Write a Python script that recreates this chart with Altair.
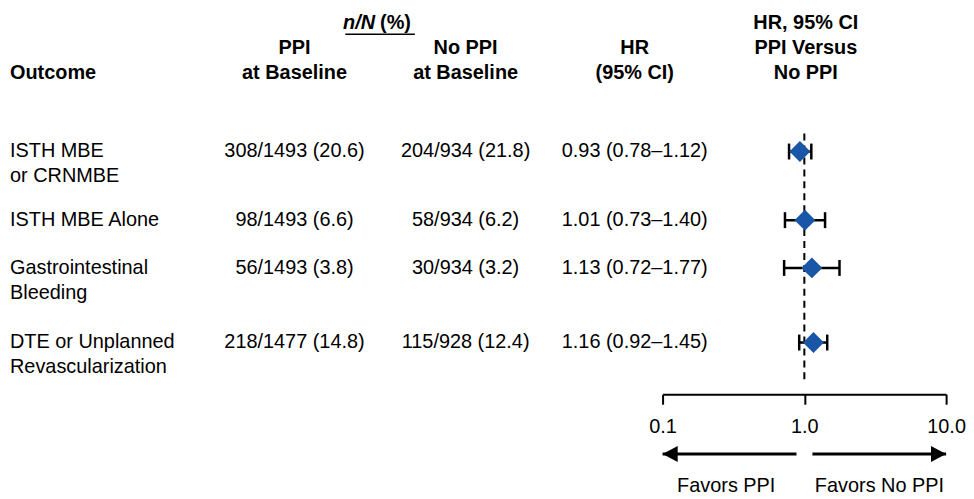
import altair as alt
import pandas as pd

# ---------------- data ----------------
OUTCOMES = ["ISTH MBE\nor CRNMBE", "ISTH MBE Alone", "Gastrointestinal\nBleeding",
            "DTE or Unplanned\nRevascularization"]
PPI_N = ["308/1493 (20.6)", "98/1493 (6.6)", "56/1493 (3.8)", "218/1477 (14.8)"]
NOPPI_N = ["204/934 (21.8)", "58/934 (6.2)", "30/934 (3.2)", "115/928 (12.4)"]
HR = [0.93, 1.01, 1.13, 1.16]
LO = [0.78, 0.73, 0.72, 0.92]
HI = [1.12, 1.40, 1.77, 1.45]
TICKS = [0.1, 1.0, 10.0]
FAVORS = ["Favors PPI", "Favors No PPI"]
HEADERS = ["HR, 95% CI", "PPI", "No PPI", "HR", "PPI Versus",
           "at Baseline", "at Baseline", "(95% CI)", "No PPI"]

# ---------------- layout ----------------
FONT = "Liberation Sans"
FS = 20
ROW_Y = [143, 212, 260, 335]
LINE_H = 25
H = 387
W = 958
X_RANGE = [658, 943]
COL_PPI, COL_NOPPI, COL_HR, COL_FOREST = 288, 460, 630, 802
HDR_X = [COL_FOREST, COL_PPI, COL_NOPPI, COL_HR, COL_FOREST,
         COL_PPI, COL_NOPPI, COL_HR, COL_FOREST]
HDR_Y = [14, 39, 39, 39, 39, 64, 64, 64, 64]
FAV_X = [722, 876]
BLUE = "#1a56a8"

rows = pd.DataFrame({
    "line1": [o.split("\n")[0] for o in OUTCOMES],
    "line2": [o.split("\n")[1] if "\n" in o else "" for o in OUTCOMES],
    "ppi": PPI_N,
    "noppi": NOPPI_N,
    "hrtxt": [f"{h:.2f} ({l:.2f}\u2013{u:.2f})" for h, l, u in zip(HR, LO, HI)],
    "hr": HR, "lo": LO, "hi": HI,
    "y": ROW_Y,
})
rows["y2"] = rows["y"] + LINE_H

xs = alt.Scale(type="log", domain=[0.1, 10], range=X_RANGE)
ys = alt.Scale(domain=[0, H], range=[0, H], zero=False, nice=False)
Y = alt.Y("y:Q", scale=ys, axis=None)

base = alt.Chart(rows)


def txt(field, x, yfield="y", align="center", weight="normal"):
    return base.mark_text(font=FONT, fontSize=FS, align=align, baseline="middle",
                          fontWeight=weight, color="black").encode(
        x=alt.value(x), y=alt.Y(f"{yfield}:Q", scale=ys, axis=None), text=f"{field}:N")


def label(t, x, y, align="center", weight="normal", style="normal"):
    return alt.Chart(pd.DataFrame({"t": [t]})).mark_text(
        font=FONT, fontSize=FS, fontWeight=weight, fontStyle=style,
        baseline="middle", align=align, color="black").encode(
        x=alt.value(x), y=alt.value(y), text="t:N")


table = (txt("line1", 2, align="left") + txt("line2", 2, "y2", align="left")
         + txt("ppi", COL_PPI) + txt("noppi", COL_NOPPI) + txt("hrtxt", COL_HR))

headers = [label(t, x, y, weight="bold") for t, x, y in zip(HEADERS, HDR_X, HDR_Y)]
headers += [label("Outcome", 2, 64, align="left", weight="bold"),
            label("n/N", 369, 14, align="right", weight="bold", style="italic"),
            label("(%)", 374, 14, align="left", weight="bold")]
underline = alt.Chart(pd.DataFrame({"a": [0]})).mark_rule(color="black", strokeWidth=1.5).encode(
    x=alt.value(339), x2=alt.value(409), y=alt.value(25))

# forest plot
ref = alt.Chart(pd.DataFrame({"v": [1.0]})).mark_rule(
    color="black", strokeWidth=2, strokeDash=[7, 5]).encode(
    x=alt.X("v:Q", scale=xs,
            axis=alt.Axis(values=TICKS, format=".1f", title=None, grid=False,
                          domainColor="black", domainWidth=2, tickColor="black",
                          tickWidth=2, tickSize=10, labelFont=FONT, labelFontSize=FS,
                          labelColor="black", labelPadding=12, labelFlush=False)),
    y=alt.value(125), y2=alt.value(377))

ci = base.mark_rule(color="black", strokeWidth=2.5).encode(
    x=alt.X("lo:Q", scale=xs), x2="hi:Q", y=Y)
cap_path = "M0,-1L0,1"
cap_lo = base.mark_point(shape=cap_path, size=256, filled=False, color="black",
                         strokeWidth=2.5, opacity=1).encode(x=alt.X("lo:Q", scale=xs), y=Y)
cap_hi = base.mark_point(shape=cap_path, size=256, filled=False, color="black",
                         strokeWidth=2.5, opacity=1).encode(x=alt.X("hi:Q", scale=xs), y=Y)
diam = base.mark_point(shape="diamond", size=440, filled=True, color=BLUE,
                       opacity=1).encode(x=alt.X("hr:Q", scale=xs), y=Y)

# arrows
arr = pd.DataFrame({"tip": [0.1, 10.0], "end": [0.88, 1.14],
                    "shape": ["M0,0L1.9,-1L1.9,1Z", "M0,0L-1.9,-1L-1.9,1Z"]})
shafts = alt.Chart(arr).mark_rule(color="black", strokeWidth=3).encode(
    x=alt.X("tip:Q", scale=xs), x2="end:Q", y=alt.value(447))
heads = alt.Chart(arr).mark_point(filled=True, color="black", size=256, opacity=1).encode(
    x=alt.X("tip:Q", scale=xs), y=alt.value(447),
    shape=alt.Shape("shape:N", scale=None, legend=None))
fav = [label(t, x, 479) for t, x in zip(FAVORS, FAV_X)]

chart = alt.layer(
    ref, underline, table, *headers,
    ci, cap_lo, cap_hi, diam, shafts, heads, *fav
).properties(
    width=W, height=H, padding=0
).configure_view(stroke=None)

chart.save("out.html", embed_options={"renderer": "svg", "actions": False})
